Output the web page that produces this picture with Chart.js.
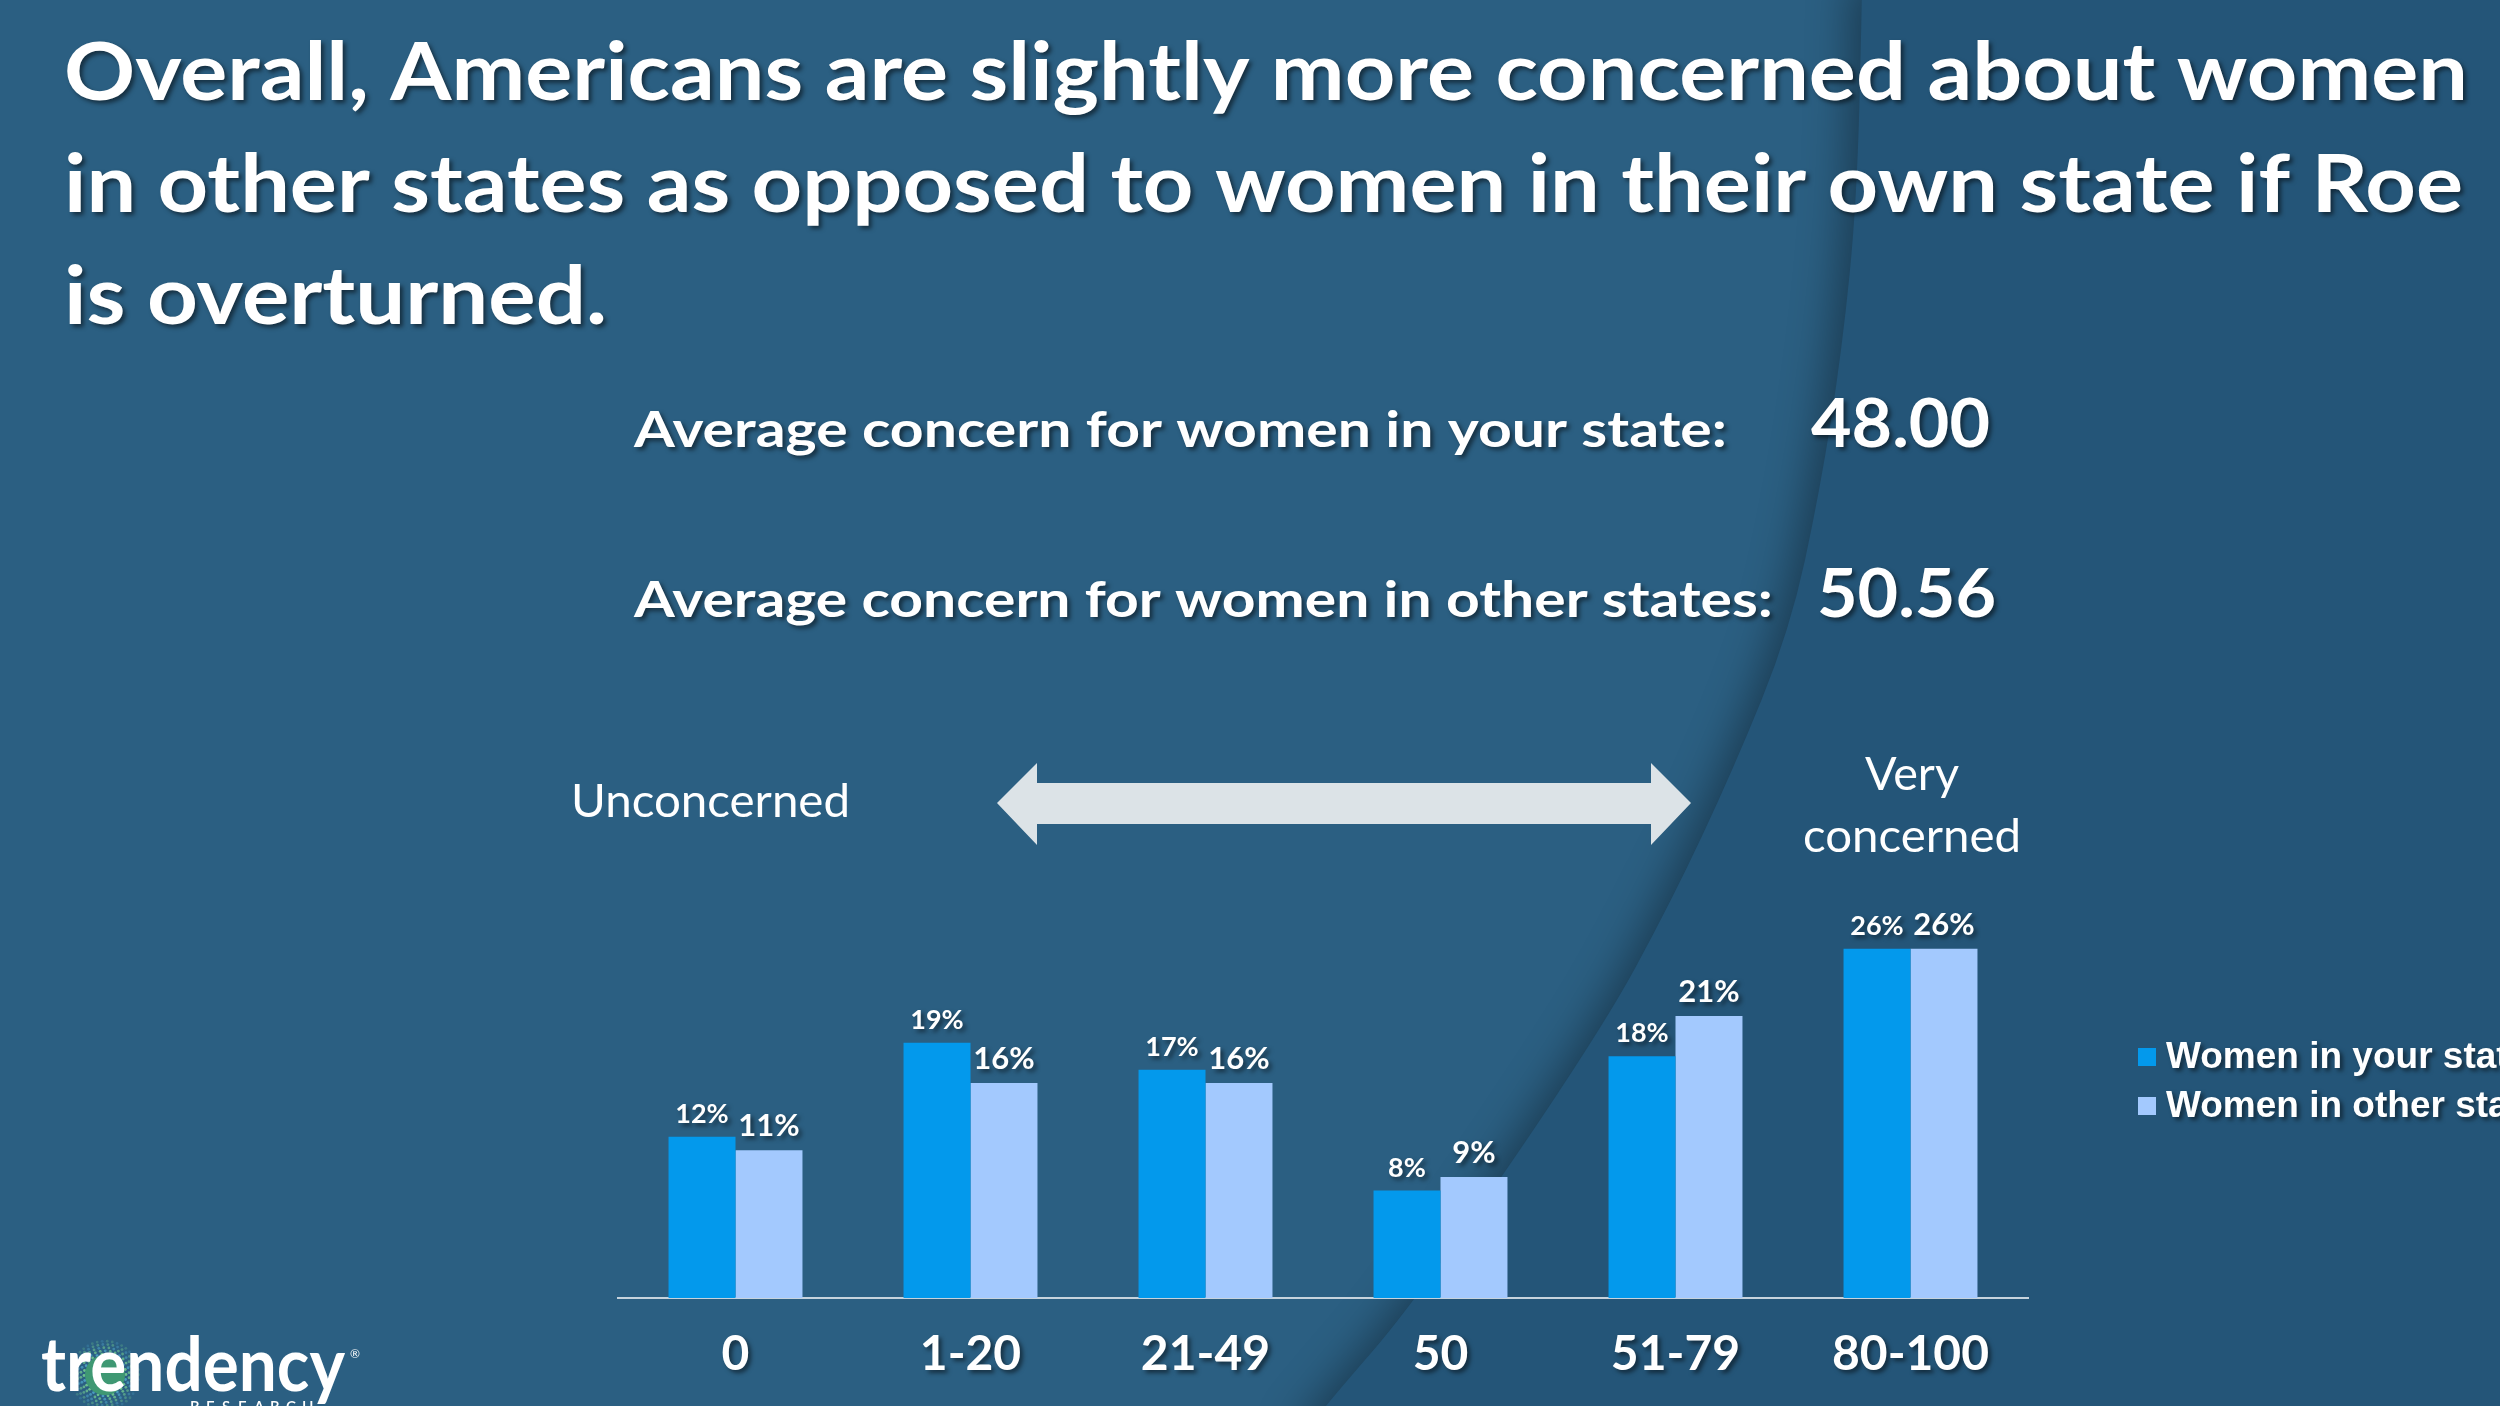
<!DOCTYPE html>
<html>
<head>
<meta charset="utf-8">
<title>Concern if Roe is overturned</title>
<style>
  html, body { margin: 0; padding: 0; overflow: hidden; background: #2B5F82; }
  #wrap { position: relative; width: 2500px; height: 1406px; }
  canvas { display: block; }
</style>
<script src="https://cdn.jsdelivr.net/npm/chart.js@4.4.0/dist/chart.umd.min.js"></script>
</head>
<body>
<div id="wrap"><canvas id="concernChart" width="2500" height="1406"></canvas></div>
<script>
// chart data
const categories = ['0', '1-20', '21-49', '50', '51-79', '80-100'];
const yourState = [12, 19, 17, 8, 18, 26];
const otherStates = [11, 16, 16, 9, 21, 26];
const seriesNames = ['Women in your state', 'Women in other states'];

const titleLines = [
  'Overall, Americans are slightly more concerned about women',
  'in other states as opposed to women in their own state if Roe',
  'is overturned.'
];
const averageLabels = ['Average concern for women in your state:', 'Average concern for women in other states:'];
const averageValues = ['48.00', '50.56'];

const colors = {
  bgLeft: '#2B5F82',
  bgRight: '#245578',
  yourState: '#0399EC',
  otherStates: '#A3C9FE',
  arrow: '#DCE3E7',
  axis: '#C6D3DD'
};

// draws text squeezed/stretched to a measured width
function fitText(ctx, text, x, y, width, font, align) {
  ctx.font = font;
  const w = ctx.measureText(text).width;
  const s = width / w;
  ctx.save();
  ctx.translate(x, y);
  ctx.scale(s, 1);
  ctx.textAlign = 'left';
  ctx.fillText(text, align === 'center' ? -w / 2 : 0, 0);
  ctx.restore();
}

function setShadow(ctx, on) {
  if (on) {
    ctx.shadowColor = 'rgba(0,0,0,0.5)';
    ctx.shadowOffsetX = 3;
    ctx.shadowOffsetY = 3;
    ctx.shadowBlur = 4;
  } else {
    ctx.shadowColor = 'rgba(0,0,0,0)';
    ctx.shadowOffsetX = 0;
    ctx.shadowOffsetY = 0;
    ctx.shadowBlur = 0;
  }
}

// background with the curved darker panel on the right
const backgroundPlugin = {
  id: 'slideBackground',
  beforeDraw(chart) {
    const ctx = chart.ctx;
    const W = chart.width, H = chart.height;
    ctx.save();
    ctx.fillStyle = colors.bgLeft;
    ctx.fillRect(0, 0, W, H);

    const pts = [[1862, -20], [1862, 0], [1857, 200], [1842, 350], [1820, 490], [1790, 630],
      [1733, 770], [1672, 900], [1600, 1033], [1417, 1300], [1325, 1406], [1300, 1440]];
    ctx.beginPath();
    ctx.moveTo(W + 50, -20);
    ctx.lineTo(pts[0][0], pts[0][1]);
    for (let i = 1; i < pts.length - 1; i++) {
      const mx = (pts[i][0] + pts[i + 1][0]) / 2;
      const my = (pts[i][1] + pts[i + 1][1]) / 2;
      ctx.quadraticCurveTo(pts[i][0], pts[i][1], mx, my);
    }
    ctx.lineTo(pts[pts.length - 1][0], pts[pts.length - 1][1]);
    ctx.lineTo(W + 50, H + 50);
    ctx.closePath();
    ctx.shadowColor = 'rgba(0,0,0,0.35)';
    ctx.shadowBlur = 40;
    ctx.shadowOffsetX = -12;
    ctx.fillStyle = colors.bgRight;
    ctx.fill();
    ctx.restore();
  }
};

// value labels above the bars, then shadow for the tick labels drawn after
const valueLabelPlugin = {
  id: 'valueLabels',
  afterDatasetsDraw(chart) {
    const ctx = chart.ctx;
    ctx.save();
    setShadow(ctx, true);
    ctx.fillStyle = '#FFFFFF';
    ctx.textAlign = 'center';
    ctx.textBaseline = 'alphabetic';
    chart.data.datasets.forEach((ds, di) => {
      const meta = chart.getDatasetMeta(di);
      ctx.font = di === 0 ? 'bold 27px Lato' : 'bold 31px Lato';
      meta.data.forEach((bar, i) => {
        ctx.fillText(ds.data[i] + '%', bar.x, bar.y - 14);
      });
    });
    ctx.restore();
    setShadow(ctx, true);
  }
};

// titles, averages, arrow, legend and logo
const slidePlugin = {
  id: 'slideText',
  afterDraw(chart) {
    const ctx = chart.ctx;
    setShadow(ctx, false);
    ctx.save();
    ctx.fillStyle = '#FFFFFF';
    ctx.textBaseline = 'alphabetic';

    setShadow(ctx, true);
    const titleW = [2404, 2399, 543];
    titleLines.forEach((t, i) => {
      fitText(ctx, t, 64, 100 + i * 112, titleW[i], 'bold 81px Lato');
    });

    fitText(ctx, averageLabels[0], 634, 447, 1093, 'bold 49px Lato');
    fitText(ctx, averageLabels[1], 634, 617, 1139, 'bold 49px Lato');
    fitText(ctx, averageValues[0], 1811, 447, 179, 'bold 66px Lato');
    fitText(ctx, averageValues[1], 1817, 617, 179, 'bold 66px Lato');

    setShadow(ctx, false);
    fitText(ctx, 'Unconcerned', 571, 817, 279, '46px Lato');
    fitText(ctx, 'Very', 1912, 790, 94, '46px Lato', 'center');
    fitText(ctx, 'concerned', 1912, 852, 218, '46px Lato', 'center');

    // double-headed arrow
    ctx.fillStyle = colors.arrow;
    ctx.beginPath();
    ctx.moveTo(997, 803);
    ctx.lineTo(1037, 763);
    ctx.lineTo(1037, 783);
    ctx.lineTo(1651, 783);
    ctx.lineTo(1651, 763);
    ctx.lineTo(1691, 803);
    ctx.lineTo(1651, 845);
    ctx.lineTo(1651, 824);
    ctx.lineTo(1037, 824);
    ctx.lineTo(1037, 845);
    ctx.closePath();
    ctx.fill();

    // legend (runs off the right edge like the slide)
    ctx.font = 'bold 37px "Liberation Sans"';
    ctx.textBaseline = 'middle';
    chart.data.datasets.forEach((ds, i) => {
      const cy = 1057 + i * 49;
      setShadow(ctx, false);
      ctx.fillStyle = ds.backgroundColor;
      ctx.fillRect(2138, cy - 9, 18, 18);
      setShadow(ctx, true);
      ctx.fillStyle = '#FFFFFF';
      ctx.fillText(ds.label, 2166, cy + 1);
    });

    // logo
    setShadow(ctx, false);
    const lx = 105, ly = 1375;
    for (let r = 21; r <= 34; r += 3.2) {
      const n = Math.round(2 * Math.PI * r / 5);
      for (let k = 0; k < n; k++) {
        const a = k / n * 2 * Math.PI + r;
        ctx.fillStyle = k % 3 === 0 ? '#4A9BC0' : '#6CC08F';
        ctx.globalAlpha = 1 - (r - 21) / 18;
        ctx.beginPath();
        ctx.arc(lx + r * Math.cos(a), ly + r * Math.sin(a), 1.4, 0, 2 * Math.PI);
        ctx.fill();
      }
    }
    ctx.globalAlpha = 1;
    ctx.fillStyle = '#3F9873';
    ctx.beginPath();
    ctx.arc(lx, ly, 20, 0, 2 * Math.PI);
    ctx.fill();
    ctx.fillStyle = '#FFFFFF';
    ctx.textBaseline = 'alphabetic';
    fitText(ctx, 'trendency', 41, 1391, 304, 'bold 74px Lato');
    ctx.font = '12px Lato';
    ctx.fillText('\u00AE', 350, 1358);
    ctx.font = '600 15px Lato';
    ctx.textBaseline = 'top';
    'RESEARCH'.split('').forEach((c, i) => {
      ctx.fillText(c, 190 + i * 16, 1400);
    });
    ctx.restore();
  }
};

const ctx = document.getElementById('concernChart').getContext('2d');
const concernChart = new Chart(ctx, {
  type: 'bar',
  data: {
    labels: categories,
    datasets: [
      {
        label: seriesNames[0],
        data: yourState,
        backgroundColor: colors.yourState,
        borderWidth: 0
      },
      {
        label: seriesNames[1],
        data: otherStates,
        backgroundColor: colors.otherStates,
        borderWidth: 0
      }
    ]
  },
  options: {
    responsive: false,
    animation: false,
    devicePixelRatio: 1,
    categoryPercentage: 0.57,
    barPercentage: 1.0,
    layout: {
      padding: { left: 618, right: 472, top: 895, bottom: 0 }
    },
    plugins: {
      legend: { display: false },
      tooltip: { enabled: false }
    },
    scales: {
      x: {
        grid: { display: false, drawTicks: false },
        border: { display: true, color: colors.axis, width: 2 },
        ticks: {
          color: '#FFFFFF',
          font: { family: 'Lato', weight: 'bold', size: 48 },
          padding: 28,
          z: 1
        },
        afterFit(scale) { scale.height = 108; }
      },
      y: {
        display: false,
        min: 0,
        max: 30
      }
    }
  },
  plugins: [backgroundPlugin, valueLabelPlugin, slidePlugin]
});
</script>
</body>
</html>
